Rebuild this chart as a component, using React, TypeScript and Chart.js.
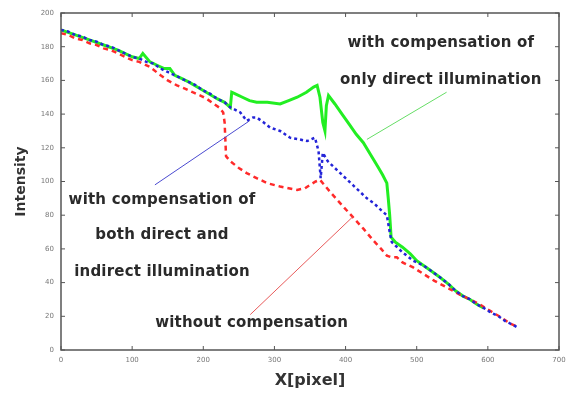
import React, { useEffect, useRef } from "react";
import { Chart, registerables } from "chart.js";

Chart.register(...registerables);

const xTicks = [0, 100, 200, 300, 400, 500, 600, 700];
const yTicks = [0, 20, 40, 60, 80, 100, 120, 140, 160, 180, 200];

const blueX = [0, 10, 20, 30, 40, 50, 60, 70, 80, 90, 100, 110, 120, 130, 140, 150, 160, 170, 180, 190, 200, 210, 220, 230, 238, 252, 261, 270, 275, 285, 294, 308, 322, 335, 346, 357, 362, 365, 368, 375, 390, 400, 410, 420, 430, 440, 450, 458, 462, 465, 470, 480, 495, 510, 520, 533, 545, 555, 565, 575, 585, 594, 605, 615, 625, 635, 643];
const blueY = [190, 189, 187, 186, 184, 183, 181, 180, 178, 176, 174, 173, 171, 170, 167, 165, 163, 161, 159, 157, 154, 152, 149, 147, 144, 141, 136, 138, 138, 135, 132, 130, 126, 125, 124, 126, 118, 102, 117, 112, 106, 102, 98, 94, 90, 87, 83, 80, 70, 64, 62, 58, 53, 50, 47, 43, 39, 35, 32, 30, 27, 25, 22, 20, 17, 15, 13];

const greenX = [0, 20, 40, 60, 80, 100, 110, 115, 125, 135, 145, 153, 160, 170, 180, 200, 220, 230, 238, 240, 245, 255, 265, 275, 290, 308, 320, 332, 345, 355, 360, 364, 368, 371, 373, 376, 385, 395, 405, 415, 425, 435, 445, 452, 458, 460, 462, 464, 470, 480, 491, 500, 510, 520, 533, 545, 555, 565, 575, 585, 594];
const greenY = [190, 187, 184, 181, 178, 174, 173, 176, 171, 169, 167, 167, 163, 161, 159, 154, 149, 147, 144, 153, 152, 150, 148, 147, 147, 146, 148, 150, 153, 156, 157, 150, 135, 130, 145, 151, 146, 140, 134, 128, 123, 116, 109, 104, 99, 90, 80, 67, 64, 61, 57, 53, 50, 47, 43, 39, 35, 32, 30, 27, 25];

const redX = [0, 10, 20, 30, 40, 50, 60, 70, 80, 90, 100, 110, 125, 140, 150, 163, 175, 185, 196, 205, 215, 222, 228, 230, 231, 232, 238, 250, 261, 275, 290, 308, 320, 332, 343, 350, 358, 364, 370, 380, 397, 410, 425, 439, 450, 458, 465, 472, 480, 495, 510, 525, 543, 560, 575, 589, 600, 608, 620, 630, 640];
const redY = [188, 187, 185, 184, 182, 181, 179, 178, 176, 174, 172, 171, 168, 163, 160, 157, 155, 153, 151, 149, 146, 144, 141, 135, 125, 115, 112, 108, 105, 102, 99, 97, 96, 95, 96, 98, 100, 101, 98, 93, 85, 79, 72, 65, 60, 56, 55, 55, 52, 49, 45, 41, 37, 33, 30, 27, 24, 22, 19, 16, 14];

const labelGreen = ["with compensation of", "only direct illumination"];
const labelBlue = ["with compensation of", "both direct and", "indirect illumination"];
const labelRed = ["without compensation"];

const toPts = (xs: number[], ys: number[]) => xs.map((x, i) => ({ x, y: ys[i] }));

const framePlugin = {
  id: "frame",
  afterDatasetsDraw(chart: any) {
    const { ctx, chartArea: a, scales } = chart;
    const xs = scales.x;
    const ys = scales.y;
    ctx.save();
    ctx.strokeStyle = "#555";
    ctx.lineWidth = 1.5;
    ctx.strokeRect(a.left, a.top, a.right - a.left, a.bottom - a.top);
    ctx.lineWidth = 1;
    const tl = 4;
    xTicks.forEach((v) => {
      const px = xs.getPixelForValue(v);
      ctx.beginPath();
      ctx.moveTo(px, a.bottom);
      ctx.lineTo(px, a.bottom - tl);
      ctx.moveTo(px, a.top);
      ctx.lineTo(px, a.top + tl);
      ctx.stroke();
    });
    yTicks.forEach((v) => {
      const py = ys.getPixelForValue(v);
      ctx.beginPath();
      ctx.moveTo(a.left, py);
      ctx.lineTo(a.left + tl, py);
      ctx.moveTo(a.right, py);
      ctx.lineTo(a.right - tl, py);
      ctx.stroke();
    });

    const line = (x1: number, y1: number, x2: number, y2: number, c: string) => {
      ctx.beginPath();
      ctx.strokeStyle = c;
      ctx.lineWidth = 1;
      ctx.moveTo(xs.getPixelForValue(x1), ys.getPixelForValue(y1));
      ctx.lineTo(xs.getPixelForValue(x2), ys.getPixelForValue(y2));
      ctx.stroke();
    };
    line(542, 153, 430, 125, "#66dd66");
    line(132, 98, 265, 136, "#4a4ad0");
    line(266, 21, 410, 79, "#e85a5a");

    ctx.fillStyle = "#2a2a2a";
    ctx.font = "bold 15px 'DejaVu Sans'";
    try { (ctx as any).letterSpacing = "0.2px"; } catch (e) {}
    ctx.textAlign = "center";
    ctx.textBaseline = "middle";
    const text = (lines: string[], cx: number, cy: number[]) => {
      lines.forEach((t, i) => ctx.fillText(t, xs.getPixelForValue(cx), ys.getPixelForValue(cy[i])));
    };
    text(labelGreen, 534, [182, 160]);
    text(labelBlue, 142, [89, 68, 46]);
    text(labelRed, 268, [16]);
    ctx.restore();
  },
};

export default function App() {
  const ref = useRef<HTMLCanvasElement>(null);
  useEffect(() => {
    const chart = new Chart(ref.current!, {
      type: "line",
      data: {
        datasets: [
          {
            label: "both",
            data: toPts(blueX, blueY),
            borderColor: "#2424d8",
            borderWidth: 2.5,
            borderDash: [3, 3],
            pointRadius: 0,
            order: 1,
          },
          {
            label: "without",
            data: toPts(redX, redY),
            borderColor: "#ff2a2a",
            borderWidth: 2.5,
            borderDash: [5, 4],
            pointRadius: 0,
            order: 2,
          },
          {
            label: "direct",
            data: toPts(greenX, greenY),
            borderColor: "#22ee22",
            borderWidth: 3,
            pointRadius: 0,
            order: 3,
          },
        ],
      },
      options: {
        animation: false,
        responsive: false,
        maintainAspectRatio: false,
        layout: { padding: { left: 0, top: 13, right: 14, bottom: 0 } },
        plugins: { legend: { display: false }, tooltip: { enabled: false } },
        scales: {
          x: {
            type: "linear",
            min: 0,
            max: 700,
            afterFit: (s: any) => { s.height = 45; },
            afterBuildTicks: (s: any) => { s.ticks = xTicks.map((v) => ({ value: v })); },
            grid: { display: false, drawTicks: false },
            border: { display: false },
            ticks: { font: { size: 7, family: "DejaVu Sans" }, color: "#777", padding: 6, maxRotation: 0 },
            title: { display: true, text: "X[pixel]", font: { size: 16, weight: "bold", family: "DejaVu Sans" }, color: "#333", padding: { top: 0, bottom: 5 } },
          },
          y: {
            type: "linear",
            min: 0,
            max: 200,
            afterFit: (s: any) => { s.width = 61; },
            afterBuildTicks: (s: any) => { s.ticks = yTicks.map((v) => ({ value: v })); },
            grid: { display: false, drawTicks: false },
            border: { display: false },
            ticks: { font: { size: 7, family: "DejaVu Sans" }, color: "#777", padding: 7 },
            title: { display: true, text: "Intensity", font: { size: 14, weight: "bold", family: "DejaVu Sans" }, color: "#333", padding: { top: 13, bottom: 0 } },
          },
        },
      },
      plugins: [framePlugin],
    });
    return () => chart.destroy();
  }, []);
  return (
    <div style={{ position: "absolute", left: 0, top: 0, width: 573, height: 395, background: "#fff" }}>
      <canvas ref={ref} width={573} height={395} style={{ display: "block" }} />
    </div>
  );
}
